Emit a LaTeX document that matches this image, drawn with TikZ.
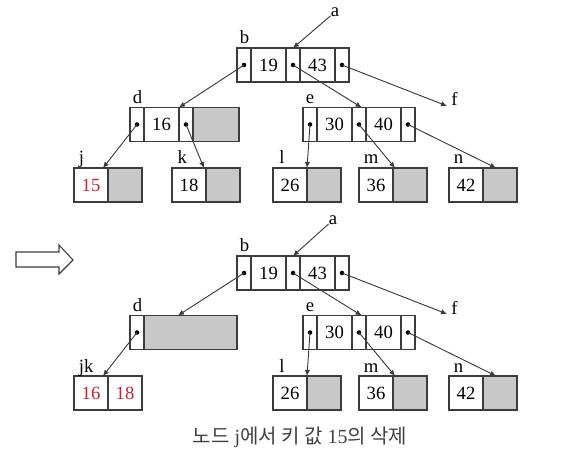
\documentclass[tikz,border=0pt]{standalone}
\usepackage{fontspec}
\setmainfont{Liberation Serif}
\newfontfamily\cjk{Noto Sans CJK KR}
\usetikzlibrary{positioning,arrows.meta}
\definecolor{keyred}{RGB}{204,32,48}
\definecolor{freegray}{RGB}{200,200,200}
\definecolor{linegray}{RGB}{60,60,60}

\begin{document}
\begin{tikzpicture}[x=0.75pt,y=-0.75pt,node distance=0pt,
  cell/.style={draw=linegray,line width=0.9pt,minimum height=25.5pt,inner sep=0pt,
    outer sep=0pt,anchor=west,font=\fontsize{14}{16}\selectfont},
  ptr cell/.style={cell,minimum width=10.5pt,
    path picture={\fill[black] (path picture bounding box.center) circle (1.7pt);}},
  key cell/.style={cell,minimum width=26.25pt},
  leaf cell/.style={cell,minimum width=25.5pt},
  free cell/.style={cell,fill=freegray},
  lbl/.style={inner sep=0pt,anchor=base west,font=\fontsize{14}{16}\selectfont},
  link/.style={draw=linegray,line width=0.7pt,-{Latex[length=4.5pt,width=4pt]}}]

  \useasboundingbox (0,0) rectangle (567,452);

  % before: tree with key 15 in node j
  \node[ptr cell] (b1) at (237,65) {};
  \node[key cell,right=of b1] (b2) {19};
  \node[ptr cell,right=of b2] (b3) {};
  \node[key cell,right=of b3] (b4) {43};
  \node[ptr cell,right=of b4] (b5) {};

  \node[ptr cell] (d1) at (130,124.5) {};
  \node[key cell,right=of d1] (d2) {16};
  \node[ptr cell,right=of d2] (d3) {};
  \node[free cell,minimum width=34.5pt,right=of d3] (d4) {};

  \node[ptr cell] (e1) at (303,124.5) {};
  \node[key cell,right=of e1] (e2) {30};
  \node[ptr cell,right=of e2] (e3) {};
  \node[key cell,right=of e3] (e4) {40};
  \node[ptr cell,right=of e4] (e5) {};

  \node[leaf cell,text=keyred] (j1) at (74,185) {15};
  \node[leaf cell,free cell,right=of j1] (j2) {};
  \node[leaf cell] (k1) at (172,185) {18};
  \node[leaf cell,free cell,right=of k1] (k2) {};
  \node[leaf cell] (l1) at (273,185) {26};
  \node[leaf cell,free cell,right=of l1] (l2) {};
  \node[leaf cell] (m1) at (359,185) {36};
  \node[leaf cell,free cell,right=of m1] (m2) {};
  \node[leaf cell] (n1) at (449,185) {42};
  \node[leaf cell,free cell,right=of n1] (n2) {};

  \node[lbl] (lb) at ([xshift=2pt,yshift=3pt]b1.north west) {b};
  \node[lbl] (ld) at ([xshift=2pt,yshift=3pt]d1.north west) {d};
  \node[lbl] (le) at ([xshift=2pt,yshift=3pt]e1.north west) {e};
  \node[lbl] (lj) at ([xshift=3.5pt,yshift=3pt]j1.north west) {j};
  \node[lbl] (lk) at ([xshift=4pt,yshift=3pt]k1.north west) {k};
  \node[lbl] (ll) at ([xshift=4.5pt,yshift=3pt]l1.north west) {l};
  \node[lbl] (lm) at ([xshift=3.5pt,yshift=3pt]m1.north west) {m};
  \node[lbl] (ln) at ([xshift=3.5pt,yshift=3pt]n1.north west) {n};
  \node[lbl,anchor=center] (a) at (335,12) {a};
  \node[lbl,anchor=base west] (f) at (451,106) {f};

  \draw[link] (a) -- (b3.north);
  \draw[link] (b1.center) -- (d2.north east);
  \draw[link] (b3.center) -- ([xshift=2pt]e3.north);
  \draw[link] (b5.center) -- ([xshift=-3pt]f.base west);
  \draw[link] (d1.center) -- ([xshift=-3.75pt]j1.north east);
  \draw[link] (d3.center) -- ([xshift=-1.5pt]k1.north east);
  \draw[link] (e1.center) -- (l1.north east);
  \draw[link] (e3.center) -- ([xshift=1.5pt]m1.north east);
  \draw[link] (e5.center) -- ([xshift=-3pt]n2.north);

  % hollow arrow
  \draw[linegray,line width=0.8pt] (16,252) -- (59,252) -- (59,245) -- (73,260)
    -- (59,274) -- (59,267) -- (16,267) -- cycle;

  % after: j and k merged into jk
  \node[ptr cell] (B1) at (237,273) {};
  \node[key cell,right=of B1] (B2) {19};
  \node[ptr cell,right=of B2] (B3) {};
  \node[key cell,right=of B3] (B4) {43};
  \node[ptr cell,right=of B4] (B5) {};

  \node[ptr cell] (D1) at (130,332.5) {};
  \node[free cell,minimum width=69.75pt,right=of D1] (D2) {};

  \node[ptr cell] (E1) at (303,332.5) {};
  \node[key cell,right=of E1] (E2) {30};
  \node[ptr cell,right=of E2] (E3) {};
  \node[key cell,right=of E3] (E4) {40};
  \node[ptr cell,right=of E4] (E5) {};

  \node[leaf cell,text=keyred] (JK1) at (74,393) {16};
  \node[leaf cell,text=keyred,right=of JK1] (JK2) {18};
  \node[leaf cell] (L1) at (273,393) {26};
  \node[leaf cell,free cell,right=of L1] (L2) {};
  \node[leaf cell] (M1) at (359,393) {36};
  \node[leaf cell,free cell,right=of M1] (M2) {};
  \node[leaf cell] (N1) at (449,393) {42};
  \node[leaf cell,free cell,right=of N1] (N2) {};

  \node[lbl] (lB) at ([xshift=2pt,yshift=3pt]B1.north west) {b};
  \node[lbl] (lD) at ([xshift=2pt,yshift=3pt]D1.north west) {d};
  \node[lbl] (lE) at ([xshift=2pt,yshift=3pt]E1.north west) {e};
  \node[lbl] (lJK) at ([xshift=3.5pt,yshift=3pt]JK1.north west) {jk};
  \node[lbl] (lL) at ([xshift=4.5pt,yshift=3pt]L1.north west) {l};
  \node[lbl] (lM) at ([xshift=3.5pt,yshift=3pt]M1.north west) {m};
  \node[lbl] (lN) at ([xshift=3.5pt,yshift=3pt]N1.north west) {n};
  \node[lbl,anchor=center] (A) at (333,220) {a};
  \node[lbl,anchor=base west] (F) at (451,314) {f};

  \draw[link] (A) -- (B3.north);
  \draw[link] (B1.center) -- ([xshift=25.5pt]D2.north west);
  \draw[link] (B3.center) -- ([xshift=2pt]E3.north);
  \draw[link] (B5.center) -- ([xshift=-3pt]F.base west);
  \draw[link] (D1.center) -- ([xshift=-3.75pt]JK1.north east);
  \draw[link] (E1.center) -- (L1.north east);
  \draw[link] (E3.center) -- ([xshift=1.5pt]M1.north east);
  \draw[link] (E5.center) -- ([xshift=-3pt]N2.north);

  \node[text=black!75,font=\fontsize{15}{18}\selectfont] (cap) at (300,437)
    {{\cjk 노드} j{\cjk 에서 키 값} 15{\cjk 의 삭제}};
\end{tikzpicture}
\end{document}
